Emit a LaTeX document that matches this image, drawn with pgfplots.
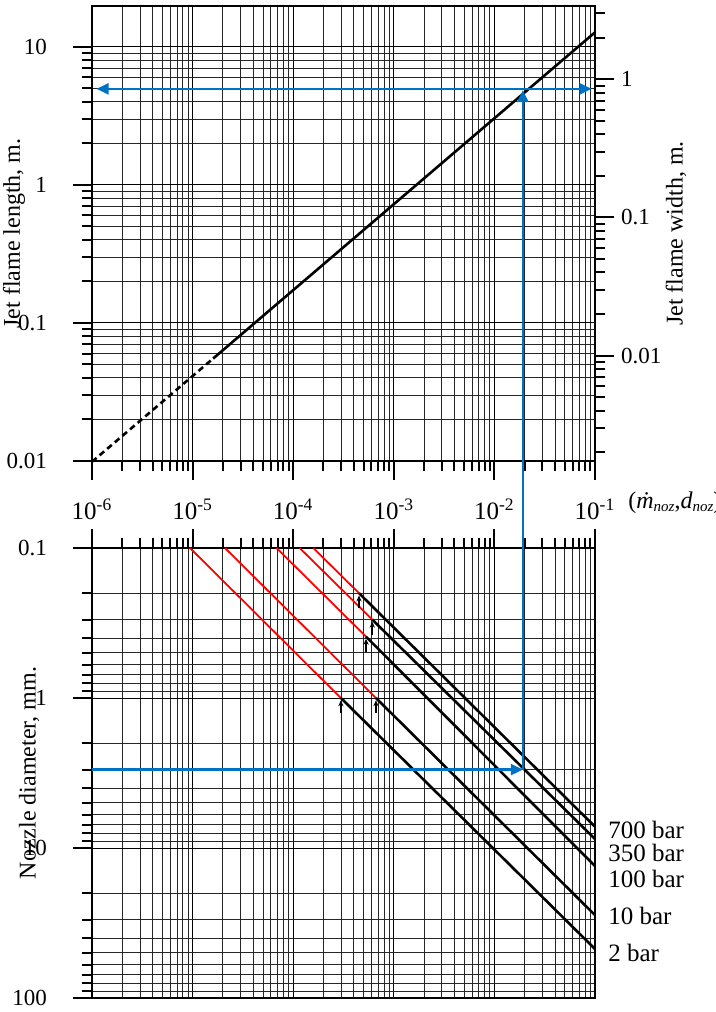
\documentclass[border=0pt]{standalone}
\usepackage{fontspec}
\setmainfont{Liberation Serif}
\usepackage{pgfplots}
\pgfplotsset{compat=1.18}
\usetikzlibrary{arrows.meta}
\definecolor{arrowblue}{RGB}{0,114,198}
\tikzset{bluearrow/.style={draw=arrowblue, line width=1.1pt}}

\begin{document}
\begin{tikzpicture}

% ---------- bottom plot: nozzle diameter ----------
\begin{axis}[scale only axis, width=251.5pt, height=225pt,
  at={(46pt,7pt)}, anchor=south west,
  xmode=log, xmin=1e-6, xmax=1e-1,
  xtick={1e-6,1e-5,1e-4,1e-3,1e-2,1e-1},
  minor xtick={2e-6,3e-6,4e-6,5e-6,6e-6,7e-6,8e-6,9e-6,
               2e-5,3e-5,4e-5,5e-5,6e-5,7e-5,8e-5,9e-5,
               2e-4,3e-4,4e-4,5e-4,6e-4,7e-4,8e-4,9e-4,
               2e-3,3e-3,4e-3,5e-3,6e-3,7e-3,8e-3,9e-3,
               2e-2,3e-2,4e-2,5e-2,6e-2,7e-2,8e-2,9e-2},
  tick align=outside,
  major tick length=9.5pt, minor tick length=5pt,
  tick style={black, line width=1pt},
  axis line style={line width=1.2pt},
  grid=both,
  major grid style={black, line width=0.45pt},
  minor grid style={black!85, line width=0.4pt},
  yticklabel style={font=\fontsize{11.5}{13}\selectfont, xshift=-9.5pt},
  label style={font=\fontsize{12}{14}\selectfont},
  ylabel style={at={(axis description cs:-0.125,0.5)}, anchor=center},
  clip=false,
  ymode=log, y dir=reverse, ymin=0.1, ymax=100,
  ytick={0.1,1,10,100}, yticklabels={0.1,1,10,100},
  minor ytick={0.2,0.3,0.4,0.5,0.6,0.7,0.8,0.9,2,3,4,5,6,7,8,9,20,30,40,50,60,70,80,90},
  ytick pos=left, xtick pos=right, xticklabels={},
  ylabel={Nozzle diameter, mm.},
]
\addplot[red, line width=0.9pt] coordinates {(1.585e-4,0.1) (4.51e-4,0.2)};
\addplot[red, line width=0.9pt] coordinates {(1.16e-4,0.1) (6.11e-4,0.3)};
\addplot[red, line width=0.9pt] coordinates {(6.84e-5,0.1) (5.30e-4,0.39)};
\addplot[red, line width=0.9pt] coordinates {(2.10e-5,0.1) (6.65e-4,1.0)};
\addplot[red, line width=0.9pt] coordinates {(9.42e-6,0.1) (2.98e-4,1.0)};
\addplot[black, line width=1.3pt] coordinates {(4.51e-4,0.2) (0.1,7.21)};
\addplot[black, line width=1.3pt] coordinates {(6.11e-4,0.3) (0.1,8.71)};
\addplot[black, line width=1.3pt] coordinates {(5.30e-4,0.39) (0.1,13.2)};
\addplot[black, line width=1.3pt] coordinates {(6.65e-4,1.0) (0.1,28.0)};
\addplot[black, line width=1.3pt] coordinates {(2.98e-4,1.0) (0.1,47.1)};
\draw[line width=0.8pt, -{Stealth[length=3pt,width=2.6pt]}] (axis cs:4.51e-4,0.252) -- (axis cs:4.51e-4,0.207);
\draw[line width=0.8pt, -{Stealth[length=3pt,width=2.6pt]}] (axis cs:6.11e-4,0.378) -- (axis cs:6.11e-4,0.31);
\draw[line width=0.8pt, -{Stealth[length=3pt,width=2.6pt]}] (axis cs:5.30e-4,0.49) -- (axis cs:5.30e-4,0.403);
\draw[line width=0.8pt, -{Stealth[length=3pt,width=2.6pt]}] (axis cs:6.65e-4,1.26) -- (axis cs:6.65e-4,1.035);
\draw[line width=0.8pt, -{Stealth[length=3pt,width=2.6pt]}] (axis cs:2.98e-4,1.26) -- (axis cs:2.98e-4,1.035);
\node[anchor=west, inner sep=0pt, xshift=6.5pt, font=\fontsize{12.5}{14}\selectfont] at (axis cs:0.1,7.6) {700 bar};
\node[anchor=west, inner sep=0pt, xshift=6.5pt, font=\fontsize{12.5}{14}\selectfont] at (axis cs:0.1,10.8) {350 bar};
\node[anchor=west, inner sep=0pt, xshift=6.5pt, font=\fontsize{12.5}{14}\selectfont] at (axis cs:0.1,16.1) {100 bar};
\node[anchor=west, inner sep=0pt, xshift=6.5pt, font=\fontsize{12.5}{14}\selectfont] at (axis cs:0.1,28.4) {10 bar};
\node[anchor=west, inner sep=0pt, xshift=6.5pt, font=\fontsize{12.5}{14}\selectfont] at (axis cs:0.1,49.9) {2 bar};
\draw[bluearrow, fill=arrowblue, -{Triangle[length=6pt,width=5.5pt]}] (axis cs:1e-6,3) -- (axis cs:0.0192,3);
\coordinate (Bh) at (axis cs:0.0192,3);
\end{axis}

% ---------- top plot: jet flame length ----------
\begin{axis}[scale only axis, width=251.5pt, height=227.5pt,
  at={(46pt,275.5pt)}, anchor=south west,
  xmode=log, xmin=1e-6, xmax=1e-1,
  xtick={1e-6,1e-5,1e-4,1e-3,1e-2,1e-1},
  minor xtick={2e-6,3e-6,4e-6,5e-6,6e-6,7e-6,8e-6,9e-6,
               2e-5,3e-5,4e-5,5e-5,6e-5,7e-5,8e-5,9e-5,
               2e-4,3e-4,4e-4,5e-4,6e-4,7e-4,8e-4,9e-4,
               2e-3,3e-3,4e-3,5e-3,6e-3,7e-3,8e-3,9e-3,
               2e-2,3e-2,4e-2,5e-2,6e-2,7e-2,8e-2,9e-2},
  tick align=outside,
  major tick length=9.5pt, minor tick length=5pt,
  tick style={black, line width=1pt},
  axis line style={line width=1.2pt},
  grid=both,
  major grid style={black, line width=0.45pt},
  minor grid style={black!85, line width=0.4pt},
  yticklabel style={font=\fontsize{11.5}{13}\selectfont, xshift=-9.5pt},
  xticklabel style={font=\fontsize{12.5}{14}\selectfont, yshift=-6pt},
  label style={font=\fontsize{12}{14}\selectfont},
  ylabel style={at={(axis description cs:-0.155,0.5)}, anchor=center},
  clip=false,
  ymode=log, ymin=0.01, ymax=19.71,
  ytick={0.01,0.1,1,10}, yticklabels={0.01,0.1,1,10},
  minor ytick={0.02,0.03,0.04,0.05,0.06,0.07,0.08,0.09,0.2,0.3,0.4,0.5,0.6,0.7,0.8,0.9,2,3,4,5,6,7,8,9},
  ytick pos=left, xtick pos=left,
  xticklabels={10\textsuperscript{-6},10\textsuperscript{-5},10\textsuperscript{-4},10\textsuperscript{-3},10\textsuperscript{-2},10\textsuperscript{-1}},
  ylabel={Jet flame length, m.},
]
\addplot[black, line width=1.3pt, dash pattern=on 3pt off 2pt] coordinates {(1e-6,0.00987) (1.6e-5,0.0552)};
\addplot[black, line width=1.3pt] coordinates {(1.6e-5,0.0552) (0.1,12.7)};
\draw[bluearrow, fill=arrowblue, {Triangle[length=6pt,width=5.5pt]}-{Triangle[length=6pt,width=5.5pt]}] (axis cs:1.11e-6,4.95) -- (axis cs:0.0927,4.95);
\coordinate (Tv) at (axis cs:0.0192,4.85);
\node[anchor=west, inner sep=0pt, xshift=16.5pt, yshift=-21pt, font=\fontsize{12}{14}\selectfont] at (axis cs:0.1,0.01)
  {(\textit{\.m}{\fontsize{7.5}{8}\selectfont\raisebox{-0.35ex}{\textit{noz}}},\textit{d}{\fontsize{7.5}{8}\selectfont\raisebox{-0.35ex}{\textit{noz}}})};
\end{axis}

% ---------- right axis: jet flame width ----------
\begin{axis}[scale only axis, width=251.5pt, height=227.5pt,
  at={(46pt,275.5pt)}, anchor=south west,
  xmode=log, xmin=1e-6, xmax=1e-1,
  axis x line=none, axis y line*=right,
  ymode=log, ymin=0.001724, ymax=3.398,
  ytick={0.01,0.1,1}, yticklabels={0.01,0.1,1},
  minor ytick={0.002,0.003,0.004,0.005,0.006,0.007,0.008,0.009,0.02,0.03,0.04,0.05,0.06,0.07,0.08,0.09,0.2,0.3,0.4,0.5,0.6,0.7,0.8,0.9,2,3},
  tick align=outside,
  major tick length=9.5pt, minor tick length=5pt,
  tick style={black, line width=1pt},
  axis line style={line width=1.2pt},
  yticklabel style={font=\fontsize{11.5}{13}\selectfont},
  label style={font=\fontsize{12}{14}\selectfont},
  ylabel style={at={(axis description cs:1.161,0.5)}, anchor=center},
  ylabel={Jet flame width, m.},
]
\addplot[draw=none] coordinates {(1e-3,0.01)};
\end{axis}

\draw[bluearrow, fill=arrowblue, -{Triangle[length=6pt,width=5.5pt]}] (Bh) -- (Tv);

\pgfresetboundingbox
\useasboundingbox (0,0) rectangle (358pt,506pt);
\end{tikzpicture}
\end{document}
